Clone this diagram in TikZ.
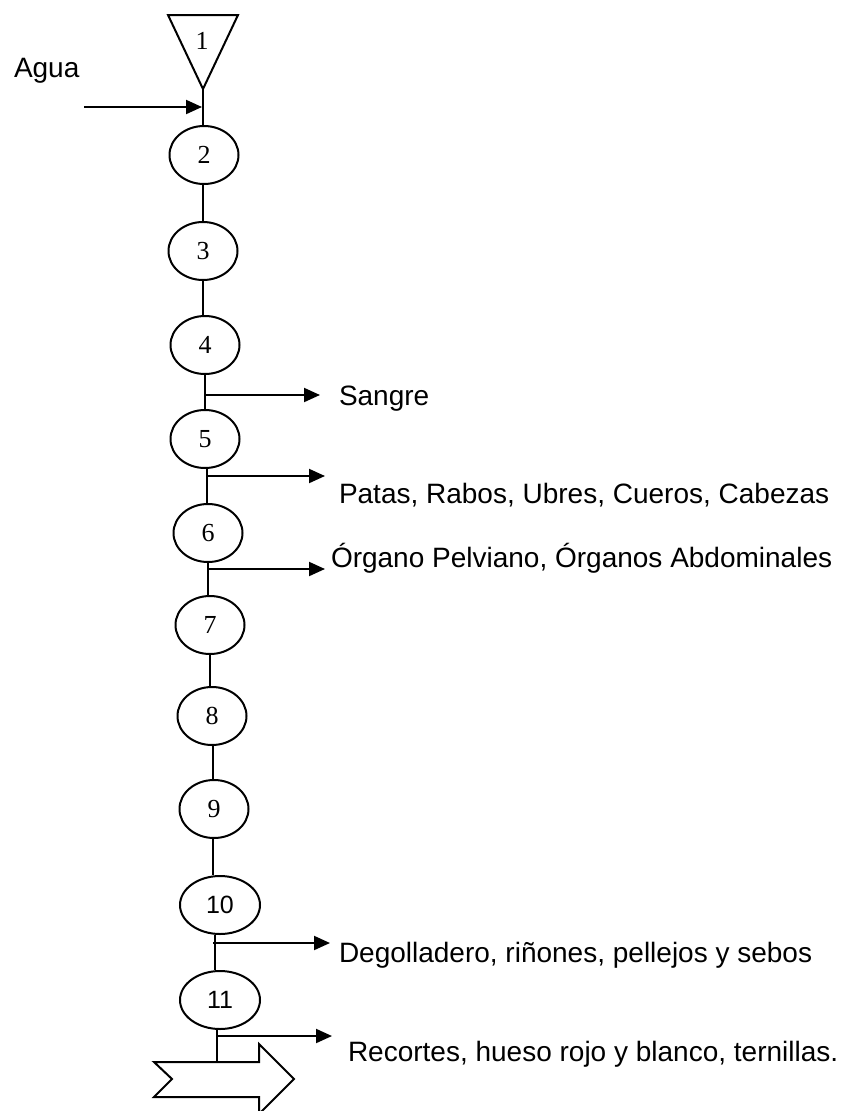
\documentclass[tikz,border=0pt]{standalone}
\usepackage{fontspec}
\setmainfont{Liberation Serif}
\newfontfamily\arialfont{Liberation Sans}
\usetikzlibrary{arrows.meta,shapes.geometric}
\begin{document}
\begin{tikzpicture}[x=1pt,y=-1pt,
  line width=2pt,
  stage/.style={draw,ellipse,minimum width=69pt,minimum height=58pt,inner sep=0pt,
    font=\fontsize{26}{28}\selectfont},
  widestage/.style={stage,minimum width=80pt,font=\arialfont\fontsize{25}{28}\selectfont},
  outflow/.style={-{Triangle[length=16pt,width=14pt]}},
  lbl/.style={anchor=base west,inner sep=0pt,font=\arialfont\fontsize{28}{32}\selectfont}]
\useasboundingbox (0,0) rectangle (848,1111);

% storage triangle (stage 1)
\draw (168,15) -- (238,15) -- (203,89) -- cycle;
\node[font=\fontsize{26}{28}\selectfont] (n1) at (202,41) {1};
\coordinate (t1) at (203,89);

% process stages
\node[stage] (e2) at (204,155) {2};
\node[stage] (e3) at (203,251) {3};
\node[stage] (e4) at (205,345) {4};
\node[stage] (e5) at (205,439) {5};
\node[stage] (e6) at (208,533) {6};
\node[stage] (e7) at (210,625) {7};
\node[stage] (e8) at (212,716) {8};
\node[stage] (e9) at (214,809) {9};
\node[widestage] (e10) at (220,905) {10};
\node[widestage] (e11) at (220,1000) {11};

% final transport arrow
\draw (154,1062) -- (259,1062) -- (259,1044) -- (294,1079) -- (259,1114)
      -- (259,1097) -- (154,1097) -- (172,1079) -- cycle;
\coordinate (fin) at (217,1062);

% main flow line (vertical segments between stages)
\draw (t1) -- (t1 |- e2.north);
\draw (e3.north |- e2.south) -- (e3.north);
\draw (e3.south) -- (e3.south |- e4.north);
\draw (e4.south) -- (e4.south |- e5.north);
\draw ([xshift=2pt]e5.south) -- ([xshift=2pt]e5.south |- e6.north);
\draw (e6.south) -- (e6.south |- e7.north);
\draw (e7.south) -- (e7.south |- e8.north);
\draw ([xshift=1pt]e8.south) -- ([xshift=1pt]e8.south |- e9.north);
\draw ([xshift=-1pt]e9.south) -- ([xshift=-1pt]e9.south |- e10.north);
\draw ([xshift=-5pt]e10.south) -- ([xshift=-5pt]e10.south |- e11.north);
\draw (fin |- e11.south) -- (fin);

% inputs and outputs
\coordinate (agin) at (84,107);
\coordinate (agout) at (202,107);
\draw[outflow] (agin) -- (agout);

\coordinate (b4) at (205,395);    \coordinate (s4) at (320,395);
\coordinate (b5) at (207,476);    \coordinate (s5) at (325,476);
\coordinate (b6) at (208,569);    \coordinate (s6) at (325,569);
\coordinate (b10) at (213,943);   \coordinate (s10) at (330,943);
\coordinate (b11) at (216,1036);  \coordinate (s11) at (332,1036);
\draw[outflow] (b4) -- (s4);
\draw[outflow] (b5) -- (s5);
\draw[outflow] (b6) -- (s6);
\draw[outflow] (b10) -- (s10);
\draw[outflow] (b11) -- (s11);

% labels
\node[lbl] (agua) at (13,77) {Agua};
\node[lbl] (sangre) at (338,405) {Sangre};
\node[lbl] (patas) at (338,503) {Patas, Rabos, Ubres, Cueros, Cabezas};
\node[lbl] (organo) at (330,567) {Órgano Pelviano, Órganos Abdominales};
\node[lbl] (degollo) at (338,962) {Degolladero, riñones, pellejos y sebos};
\node[lbl] (recortes) at (347,1061) {Recortes, hueso rojo y blanco, ternillas.};
\end{tikzpicture}
\end{document}
